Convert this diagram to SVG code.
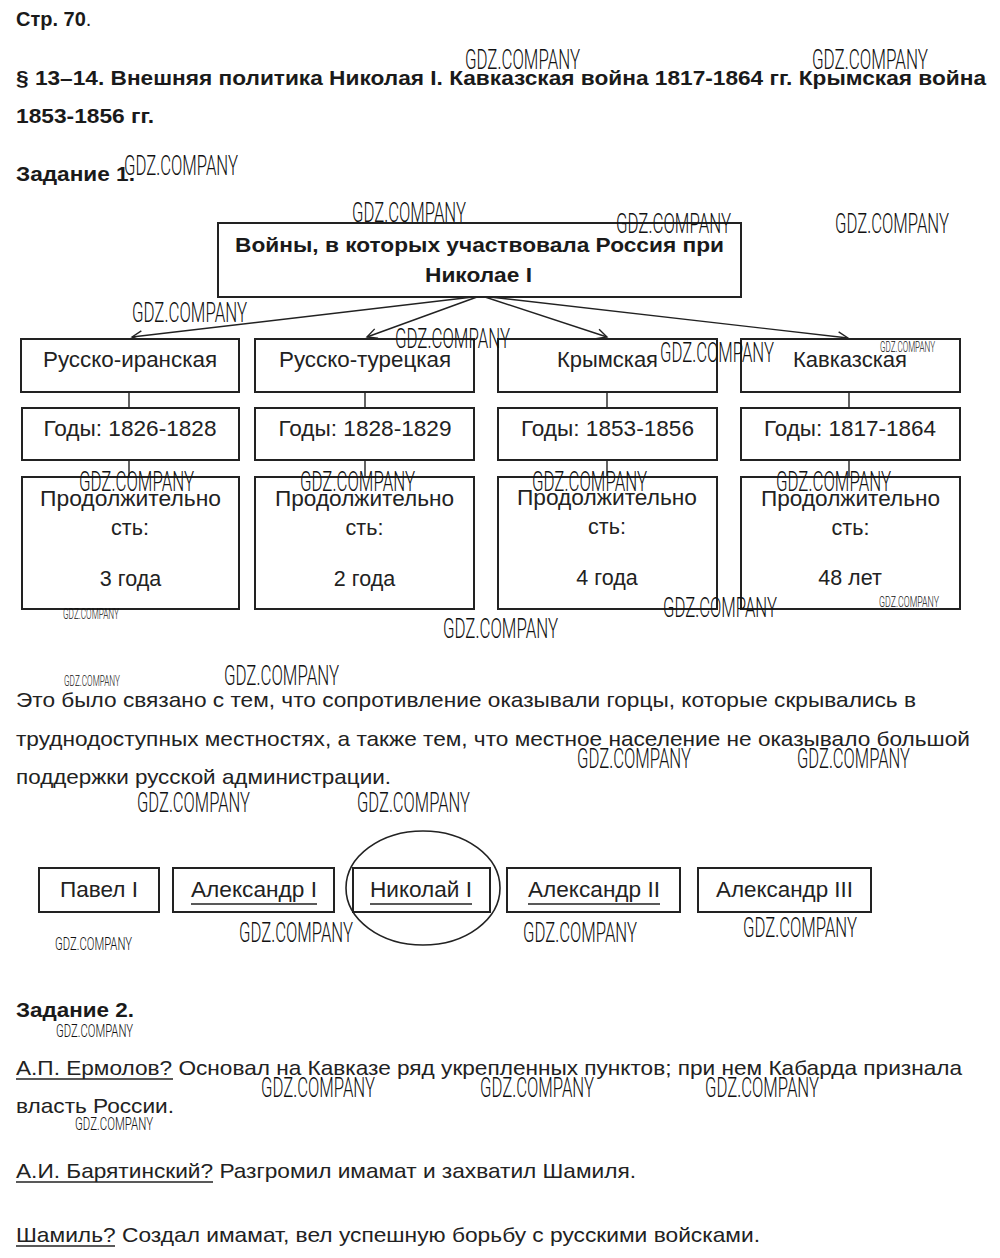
<svg xmlns="http://www.w3.org/2000/svg" width="1000" height="1258" viewBox="0 0 1000 1258">
<style>
text{font-family:"Liberation Sans",Arial,sans-serif;fill:#222;}
.b{font-weight:bold;font-size:20px;fill:#1a1a1a;}
.t{font-size:21.5px;text-anchor:middle;}
.p{font-size:21px;}
.box{fill:#fff;stroke:#222;stroke-width:2;}
.ln{stroke:#222;stroke-width:1.4;fill:none;}
.ul{stroke:#222;stroke-width:1.6;}
.wm{font-family:Roboto,"Liberation Sans Narrow","DejaVu Sans Condensed",sans-serif;font-weight:300;fill:#111;font-size:28px;}
.ws{font-size:14px;}
.wmd{font-size:19px;}
</style>
<defs>
<marker id="ah" markerUnits="userSpaceOnUse" markerWidth="14" markerHeight="12" refX="11" refY="6" orient="auto">
<path d="M1,1 L11,6 L1,11" fill="none" stroke="#222" stroke-width="1.4"/>
</marker>
</defs>
<rect width="1000" height="1258" fill="#fff"/>

<g id="header">
<text x="16" y="26" class="b">Стр. 70<tspan font-weight="normal">.</tspan></text>
<text x="16" y="85" class="b" textLength="970" lengthAdjust="spacingAndGlyphs">§ 13–14. Внешняя политика Николая I. Кавказская война 1817-1864 гг. Крымская война</text>
<text x="16" y="123" class="b" textLength="138" lengthAdjust="spacingAndGlyphs">1853-1856 гг.</text>
<text x="16" y="181" class="b" textLength="119" lengthAdjust="spacingAndGlyphs">Задание 1.</text>
</g>

<g id="connectors">
<line class="ln" x1="473" y1="297" x2="132" y2="337" marker-end="url(#ah)"/>
<line class="ln" x1="477" y1="297" x2="367" y2="337" marker-end="url(#ah)"/>
<line class="ln" x1="485" y1="297" x2="607" y2="337" marker-end="url(#ah)"/>
<line class="ln" x1="490" y1="297" x2="848" y2="338" marker-end="url(#ah)"/>
<line class="ln" x1="129" y1="392" x2="129" y2="408"/>
<line class="ln" x1="365" y1="392" x2="365" y2="408"/>
<line class="ln" x1="607" y1="392" x2="607" y2="408"/>
<line class="ln" x1="849" y1="392" x2="849" y2="408"/>
<line class="ln" x1="129" y1="460" x2="129" y2="477"/>
<line class="ln" x1="365" y1="460" x2="365" y2="477"/>
<line class="ln" x1="607" y1="460" x2="607" y2="477"/>
<line class="ln" x1="849" y1="460" x2="849" y2="477"/>
</g>

<g id="root">
<rect class="box" x="218" y="223" width="523" height="74"/>
<text x="479.5" y="252" class="b" text-anchor="middle" textLength="489" lengthAdjust="spacingAndGlyphs">Войны, в которых участвовала Россия при</text>
<text x="478.5" y="282" class="b" text-anchor="middle" textLength="107" lengthAdjust="spacingAndGlyphs">Николае I</text>
</g>

<g id="war1">
<rect class="box" x="21" y="339" width="218" height="53"/>
<text x="130" y="367" class="t" textLength="174" lengthAdjust="spacingAndGlyphs">Русско-иранская</text>
</g>
<g id="war2">
<rect class="box" x="255" y="339" width="219" height="53"/>
<text x="365" y="367" class="t" textLength="172" lengthAdjust="spacingAndGlyphs">Русско-турецкая</text>
</g>
<g id="war3">
<rect class="box" x="498" y="339" width="219" height="53"/>
<text x="607.5" y="367" class="t" textLength="101" lengthAdjust="spacingAndGlyphs">Крымская</text>
</g>
<g id="war4">
<rect class="box" x="741" y="339" width="219" height="53"/>
<text x="850" y="367" class="t" textLength="114" lengthAdjust="spacingAndGlyphs">Кавказская</text>
</g>

<g id="years1">
<rect class="box" x="22" y="408" width="217" height="52"/>
<text x="130" y="436" class="t" textLength="173" lengthAdjust="spacingAndGlyphs">Годы: 1826-1828</text>
</g>
<g id="years2">
<rect class="box" x="255" y="408" width="219" height="52"/>
<text x="365" y="436" class="t" textLength="173" lengthAdjust="spacingAndGlyphs">Годы: 1828-1829</text>
</g>
<g id="years3">
<rect class="box" x="498" y="408" width="219" height="52"/>
<text x="607.5" y="436" class="t" textLength="173" lengthAdjust="spacingAndGlyphs">Годы: 1853-1856</text>
</g>
<g id="years4">
<rect class="box" x="741" y="408" width="219" height="52"/>
<text x="850" y="436" class="t" textLength="172" lengthAdjust="spacingAndGlyphs">Годы: 1817-1864</text>
</g>

<g id="dur1">
<rect class="box" x="22" y="477" width="217" height="132"/>
<text x="130.5" y="506" class="t" textLength="181" lengthAdjust="spacingAndGlyphs">Продолжительно</text>
<text x="130" y="535" class="t">сть:</text>
<text x="130.5" y="586" class="t">3 года</text>
</g>
<g id="dur2">
<rect class="box" x="255" y="477" width="219" height="132"/>
<text x="364.5" y="506" class="t" textLength="179" lengthAdjust="spacingAndGlyphs">Продолжительно</text>
<text x="364.5" y="535" class="t">сть:</text>
<text x="364.5" y="586" class="t">2 года</text>
</g>
<g id="dur3">
<rect class="box" x="498" y="477" width="219" height="132"/>
<text x="607" y="505" class="t" textLength="180" lengthAdjust="spacingAndGlyphs">Продолжительно</text>
<text x="607" y="534" class="t">сть:</text>
<text x="607" y="585" class="t">4 года</text>
</g>
<g id="dur4">
<rect class="box" x="741" y="477" width="219" height="132"/>
<text x="850.5" y="506" class="t" textLength="179" lengthAdjust="spacingAndGlyphs">Продолжительно</text>
<text x="850.5" y="535" class="t">сть:</text>
<text x="850" y="585" class="t">48 лет</text>
</g>

<g id="paragraph">
<text x="16" y="707" class="p" textLength="900" lengthAdjust="spacingAndGlyphs">Это было связано с тем, что сопротивление оказывали горцы, которые скрывались в</text>
<text x="16" y="746" class="p" textLength="954" lengthAdjust="spacingAndGlyphs">труднодоступных местностях, а также тем, что местное население не оказывало большой</text>
<text x="16" y="784" class="p" textLength="375" lengthAdjust="spacingAndGlyphs">поддержки русской администрации.</text>
</g>

<g id="rulers">
<g id="ruler-pavel">
<rect class="box" x="39" y="868" width="120" height="44"/>
<text x="99" y="897" class="t" textLength="78" lengthAdjust="spacingAndGlyphs">Павел I</text>
</g>
<g id="ruler-alex1">
<rect class="box" x="173" y="868" width="161" height="44"/>
<text x="254" y="897" class="t" textLength="126" lengthAdjust="spacingAndGlyphs">Александр I</text>
<line class="ul" x1="191" y1="904" x2="317" y2="904"/>
</g>
<g id="ruler-nikolai">
<rect class="box" x="353" y="868" width="137" height="44"/>
<text x="421" y="897" class="t" textLength="102" lengthAdjust="spacingAndGlyphs">Николай I</text>
<line class="ul" x1="370" y1="904" x2="472" y2="904"/>
<ellipse cx="423" cy="888" rx="77" ry="57" fill="none" stroke="#222" stroke-width="1.6"/>
</g>
<g id="ruler-alex2">
<rect class="box" x="507" y="868" width="173" height="44"/>
<text x="594" y="897" class="t" textLength="132" lengthAdjust="spacingAndGlyphs">Александр II</text>
<line class="ul" x1="528" y1="904" x2="660" y2="904"/>
</g>
<g id="ruler-alex3">
<rect class="box" x="698" y="868" width="173" height="44"/>
<text x="784.5" y="897" class="t" textLength="137" lengthAdjust="spacingAndGlyphs">Александр III</text>
</g>
</g>

<g id="task2">
<text x="16" y="1017" class="b" textLength="118" lengthAdjust="spacingAndGlyphs">Задание 2.</text>
<text x="16" y="1075" class="p" textLength="946" lengthAdjust="spacingAndGlyphs">А.П. Ермолов? Основал на Кавказе ряд укрепленных пунктов; при нем Кабарда признала</text>
<line class="ul" x1="16" y1="1079" x2="173" y2="1079"/>
<text x="16" y="1113" class="p" textLength="158" lengthAdjust="spacingAndGlyphs">власть России.</text>
<text x="16" y="1178" class="p" textLength="620" lengthAdjust="spacingAndGlyphs">А.И. Барятинский? Разгромил имамат и захватил Шамиля.</text>
<line class="ul" x1="16" y1="1182" x2="213" y2="1182"/>
<text x="16" y="1242" class="p" textLength="744" lengthAdjust="spacingAndGlyphs">Шамиль? Создал имамат, вел успешную борьбу с русскими войсками.</text>
<line class="ul" x1="16" y1="1246" x2="115" y2="1246"/>
</g>

<g id="watermarks">
<text class="wm" x="465" y="69" textLength="115" lengthAdjust="spacingAndGlyphs">GDZ.COMPANY</text>
<text class="wm" x="812" y="69" textLength="116" lengthAdjust="spacingAndGlyphs">GDZ.COMPANY</text>
<text class="wm" x="124" y="175" textLength="114" lengthAdjust="spacingAndGlyphs">GDZ.COMPANY</text>
<text class="wm" x="352" y="222" textLength="114" lengthAdjust="spacingAndGlyphs">GDZ.COMPANY</text>
<text class="wm" x="616" y="233" textLength="115" lengthAdjust="spacingAndGlyphs">GDZ.COMPANY</text>
<text class="wm" x="835" y="233" textLength="114" lengthAdjust="spacingAndGlyphs">GDZ.COMPANY</text>
<text class="wm" x="132" y="322" textLength="115" lengthAdjust="spacingAndGlyphs">GDZ.COMPANY</text>
<text class="wm" x="395" y="348" textLength="115" lengthAdjust="spacingAndGlyphs">GDZ.COMPANY</text>
<text class="wm" x="660" y="362" textLength="114" lengthAdjust="spacingAndGlyphs">GDZ.COMPANY</text>
<text class="wm ws" x="880" y="352" textLength="55" lengthAdjust="spacingAndGlyphs">GDZ.COMPANY</text>
<text class="wm" x="79" y="491" textLength="115" lengthAdjust="spacingAndGlyphs">GDZ.COMPANY</text>
<text class="wm" x="300" y="491" textLength="115" lengthAdjust="spacingAndGlyphs">GDZ.COMPANY</text>
<text class="wm" x="532" y="491" textLength="115" lengthAdjust="spacingAndGlyphs">GDZ.COMPANY</text>
<text class="wm" x="776" y="491" textLength="115" lengthAdjust="spacingAndGlyphs">GDZ.COMPANY</text>
<text class="wm ws" x="63" y="619" textLength="56" lengthAdjust="spacingAndGlyphs">GDZ.COMPANY</text>
<text class="wm" x="443" y="638" textLength="115" lengthAdjust="spacingAndGlyphs">GDZ.COMPANY</text>
<text class="wm" x="663" y="617" textLength="114" lengthAdjust="spacingAndGlyphs">GDZ.COMPANY</text>
<text class="wm ws" x="879" y="607" textLength="60" lengthAdjust="spacingAndGlyphs">GDZ.COMPANY</text>
<text class="wm ws" x="64" y="686" textLength="56" lengthAdjust="spacingAndGlyphs">GDZ.COMPANY</text>
<text class="wm" x="224" y="685" textLength="115" lengthAdjust="spacingAndGlyphs">GDZ.COMPANY</text>
<text class="wm" x="577" y="768" textLength="114" lengthAdjust="spacingAndGlyphs">GDZ.COMPANY</text>
<text class="wm" x="797" y="768" textLength="113" lengthAdjust="spacingAndGlyphs">GDZ.COMPANY</text>
<text class="wm" x="137" y="812" textLength="113" lengthAdjust="spacingAndGlyphs">GDZ.COMPANY</text>
<text class="wm" x="357" y="812" textLength="113" lengthAdjust="spacingAndGlyphs">GDZ.COMPANY</text>
<text class="wm wmd" x="55" y="950" textLength="77" lengthAdjust="spacingAndGlyphs">GDZ.COMPANY</text>
<text class="wm" x="239" y="942" textLength="114" lengthAdjust="spacingAndGlyphs">GDZ.COMPANY</text>
<text class="wm" x="523" y="942" textLength="114" lengthAdjust="spacingAndGlyphs">GDZ.COMPANY</text>
<text class="wm" x="743" y="937" textLength="114" lengthAdjust="spacingAndGlyphs">GDZ.COMPANY</text>
<text class="wm wmd" x="56" y="1037" textLength="77" lengthAdjust="spacingAndGlyphs">GDZ.COMPANY</text>
<text class="wm" x="261" y="1097" textLength="114" lengthAdjust="spacingAndGlyphs">GDZ.COMPANY</text>
<text class="wm" x="480" y="1097" textLength="114" lengthAdjust="spacingAndGlyphs">GDZ.COMPANY</text>
<text class="wm" x="705" y="1097" textLength="114" lengthAdjust="spacingAndGlyphs">GDZ.COMPANY</text>
<text class="wm wmd" x="75" y="1130" textLength="78" lengthAdjust="spacingAndGlyphs">GDZ.COMPANY</text>
</g>
</svg>
